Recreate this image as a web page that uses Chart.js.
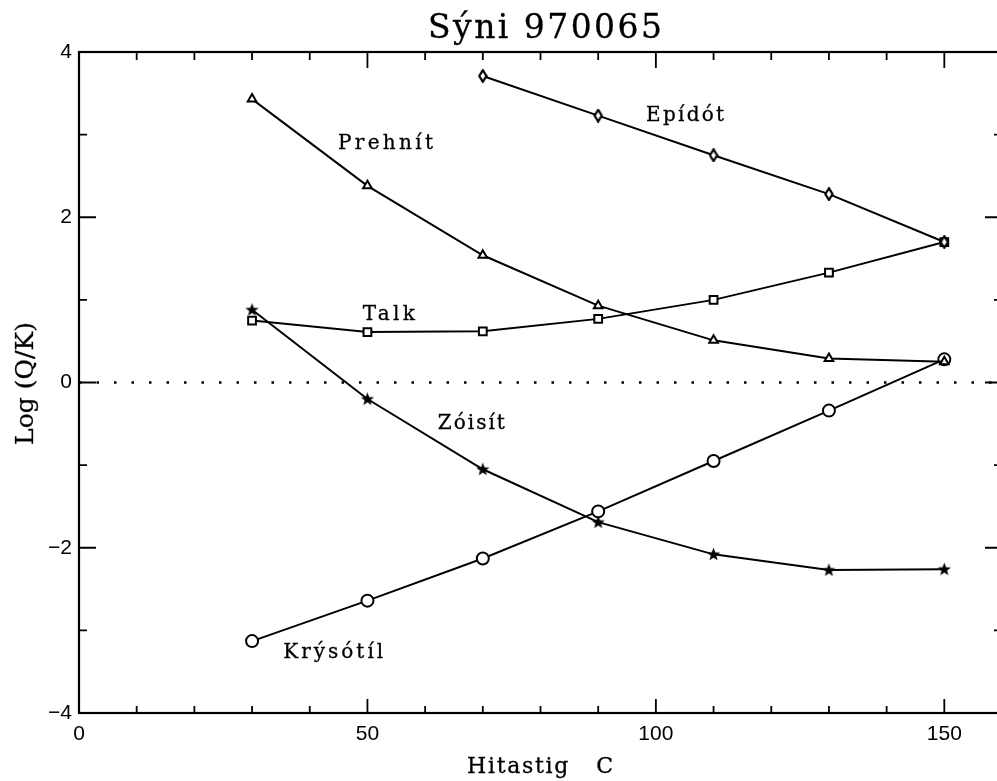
<!DOCTYPE html>
<html>
<head>
<meta charset="utf-8">
<script src="https://cdn.jsdelivr.net/npm/chart.js@4.4.1/dist/chart.umd.min.js"></script>
<style>
  html, body { margin: 0; padding: 0; background: #fff; overflow: hidden; }
  #chart { position: absolute; left: 0; top: 0; }
</style>
</head>
<body>
<canvas id="chart" width="1011" height="781"></canvas>
<script>
// Hitastig (x) and Log(Q/K) values
const temps = [30, 50, 70, 90, 110, 130, 150];
const epidot = [null, null, 3.71, 3.23, 2.75, 2.28, 1.70];
const prehnit = [3.43, 2.38, 1.54, 0.93, 0.51, 0.29, 0.25];
const talk = [0.75, 0.61, 0.62, 0.77, 1.00, 1.33, 1.70];
const zoisit = [0.88, -0.20, -1.05, -1.69, -2.08, -2.27, -2.26];
const krysotil = [-3.13, -2.64, -2.13, -1.56, -0.95, -0.34, 0.28];

const xTicks = [0, 50, 100, 150];
const yTicks = [-4, -2, 0, 2, 4];

const titleText = "Sýni 970065";
const xTitle = "Hitastig   C";
const yTitle = "Log (Q/K)";

// curve names written next to the lines (anchor in data units, width in px)
const curveNames = [
    { text: "Prehnít", x: 44.9, y: 2.82, w: 95 },
    { text: "Epídót", x: 98.3, y: 3.17, w: 78 },
    { text: "Talk", x: 49.2, y: 0.76, w: 52 },
    { text: "Zóisít", x: 62.2, y: -0.56, w: 67 },
    { text: "Krýsótíl", x: 35.4, y: -3.34, w: 100 }
];

const textFont = "DejaVu Serif";

function toPoints(vals) {
    const pts = [];
    temps.forEach(function (t, i) {
        if (vals[i] !== null) pts.push({ x: t, y: vals[i] });
    });
    return pts;
}

// filled five point star marker
function makeStar() {
    const c = document.createElement("canvas");
    c.width = 15; c.height = 15;
    const g = c.getContext("2d");
    g.beginPath();
    for (let i = 0; i < 10; i++) {
        const r = i % 2 === 0 ? 7 : 2.9;
        const a = -Math.PI / 2 + i * Math.PI / 5;
        const px = 7.5 + r * Math.cos(a), py = 7.8 + r * Math.sin(a);
        if (i === 0) g.moveTo(px, py); else g.lineTo(px, py);
    }
    g.closePath();
    g.fillStyle = "#000";
    g.fill();
    return c;
}

// narrow open diamond marker
function makeDiamond() {
    const c = document.createElement("canvas");
    c.width = 10; c.height = 14;
    const g = c.getContext("2d");
    g.beginPath();
    g.moveTo(5, 1.2); g.lineTo(8.6, 7); g.lineTo(5, 12.8); g.lineTo(1.4, 7);
    g.closePath();
    g.fillStyle = "#fff";
    g.fill();
    g.lineWidth = 2.2;
    g.strokeStyle = "#000";
    g.stroke();
    return c;
}

// draw text stretched to a given width with letter spacing (slightly heavier strokes)
function fitText(ctx, text, left, baseline, width, size) {
    ctx.font = size + "px '" + textFont + "'";
    ctx.letterSpacing = "0px";
    const base = ctx.measureText(text).width;
    const ls = (width - base) / (text.length - 1);
    ctx.letterSpacing = ls + "px";
    ctx.textAlign = "left";
    ctx.textBaseline = "alphabetic";
    ctx.lineWidth = 0.3;
    ctx.fillText(text, left, baseline);
    ctx.strokeText(text, left, baseline);
    ctx.letterSpacing = "0px";
}

const framePlugin = {
    id: "frame",
    afterDraw: function (chart) {
        const ctx = chart.ctx;
        const a = chart.chartArea;
        const xs = chart.scales.x, ys = chart.scales.y;
        ctx.save();
        ctx.strokeStyle = "#000";
        ctx.fillStyle = "#000";
        ctx.lineWidth = 2.2;
        ctx.strokeRect(a.left, a.top, a.right - a.left, a.bottom - a.top);

        // inward ticks on all four sides
        ctx.lineWidth = 1.8;
        ctx.beginPath();
        for (let v = 0; v <= 160; v += 10) {
            const px = xs.getPixelForValue(v);
            const major = v % 50 === 0;
            ctx.moveTo(px, a.bottom); ctx.lineTo(px, a.bottom - (major ? 14 : 7));
            ctx.moveTo(px, a.top); ctx.lineTo(px, a.top + (major ? 16 : 8));
        }
        for (let v = -4; v <= 4; v += 1) {
            const py = ys.getPixelForValue(v);
            const major = v % 2 === 0;
            ctx.moveTo(a.left, py); ctx.lineTo(a.left + (major ? 17 : 8), py);
            ctx.moveTo(a.right, py); ctx.lineTo(a.right - (major ? 17 : 8), py);
        }
        ctx.stroke();

        // title and axis titles
        fitText(ctx, titleText, 428, 38, 234, 33);
        fitText(ctx, xTitle, 467, 773, 146, 22);
        ctx.save();
        ctx.translate(33, 445);
        ctx.rotate(-Math.PI / 2);
        fitText(ctx, yTitle, 0, 0, 123, 25);
        ctx.restore();

        // curve names
        curveNames.forEach(function (n) {
            fitText(ctx, n.text, xs.getPixelForValue(n.x), ys.getPixelForValue(n.y), n.w, 20);
        });
        ctx.restore();
    }
};

const lineStyle = {
    borderColor: "#000",
    borderWidth: 2,
    pointBorderColor: "#000",
    pointBackgroundColor: "#fff",
    pointBorderWidth: 2,
    tension: 0,
    fill: false
};

new Chart(document.getElementById("chart"), {
    type: "line",
    data: {
        datasets: [
            Object.assign({ label: "Epídót", data: toPoints(epidot), pointStyle: makeDiamond(), pointRadius: 6 }, lineStyle),
            Object.assign({ label: "Prehnít", data: toPoints(prehnit), pointStyle: "triangle", pointRadius: 5 }, lineStyle),
            Object.assign({ label: "Talk", data: toPoints(talk), pointStyle: "rect", pointRadius: 5.5 }, lineStyle),
            Object.assign({ label: "Zóisít", data: toPoints(zoisit), pointStyle: makeStar(), pointRadius: 6 }, lineStyle),
            Object.assign({ label: "Krýsótíl", data: toPoints(krysotil), pointStyle: "circle", pointRadius: 6 }, lineStyle),
            {
                label: "zero",
                data: [{ x: 0, y: 0 }, { x: 160, y: 0 }],
                borderColor: "#000",
                borderWidth: 2.4,
                borderDash: [2.5, 15],
                pointRadius: 0,
                fill: false
            }
        ]
    },
    options: {
        responsive: false,
        animation: false,
        devicePixelRatio: 1,
        layout: { padding: { top: 52, right: 9, left: 0, bottom: 0 } },
        plugins: {
            legend: { display: false },
            tooltip: { enabled: false },
            title: { display: false }
        },
        scales: {
            x: {
                type: "linear",
                min: 0,
                max: 160,
                afterFit: function (s) { s.height = 68; },
                afterBuildTicks: function (s) { s.ticks = xTicks.map(function (v) { return { value: v }; }); },
                grid: { display: false, drawTicks: false },
                border: { display: false },
                ticks: {
                    color: "#000",
                    padding: 9,
                    font: { family: "Liberation Sans", size: 21 }
                }
            },
            y: {
                min: -4,
                max: 4,
                afterFit: function (s) { s.width = 79; },
                afterBuildTicks: function (s) { s.ticks = yTicks.map(function (v) { return { value: v }; }); },
                grid: { display: false, drawTicks: false },
                border: { display: false },
                ticks: {
                    color: "#000",
                    padding: 7,
                    font: { family: "Liberation Sans", size: 21 },
                    callback: function (v) { return v < 0 ? "−" + Math.abs(v) : String(v); }
                }
            }
        }
    },
    plugins: [framePlugin]
});
</script>
</body>
</html>
